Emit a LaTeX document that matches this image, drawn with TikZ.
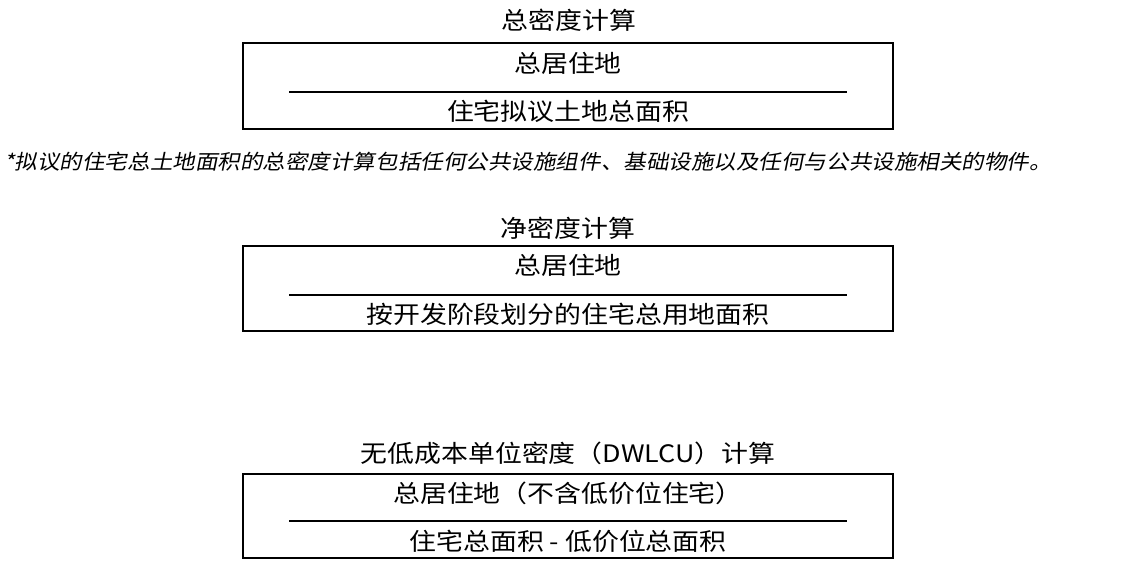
\documentclass[tikz,border=0pt]{standalone}
\usepackage{fontspec}
\setmainfont{Noto Sans CJK SC}
\newfontfamily\cjkwide[FakeStretch=1.12]{Noto Sans CJK SC}
\newfontfamily\cjkslant[FakeSlant=0.2,FakeStretch=1.1]{Noto Sans CJK SC}
\begin{document}
\begin{tikzpicture}[x=1pt,y=-1pt,
  frame/.style={draw=black,line width=2pt},
  rule/.style={draw=black,line width=1.6pt},
  txt/.style={inner sep=0pt,anchor=center,font=\cjkwide\fontsize{24}{26}\selectfont},
  note/.style={inner sep=0pt,anchor=west,font=\cjkslant\fontsize{20.5}{22}\selectfont}]
\useasboundingbox (0,0) rectangle (1127,581);
% box 1
\node[txt] (t1) at (569,20) {总密度计算};
\draw[frame] (243,43) rectangle (893,129);
\node[txt] (n1) at (568,63) {总居住地};
\coordinate (l1a) at (289,92);
\coordinate (l1b) at (847,92);
\draw[rule] (l1a) -- (l1b);
\node[txt] (d1) at (568,111) {住宅拟议土地总面积};
\node[note] (note) at (4,162) {*拟议的住宅总土地面积的总密度计算包括任何公共设施组件、基础设施以及任何与公共设施相关的物件。};
% box 2
\node[txt] (t2) at (568,228) {净密度计算};
\draw[frame] (243,246) rectangle (893,331);
\node[txt] (n2) at (568,265) {总居住地};
\coordinate (l2a) at (289,295);
\coordinate (l2b) at (847,295);
\draw[rule] (l2a) -- (l2b);
\node[txt] (d2) at (568,314) {按开发阶段划分的住宅总用地面积};
% box 3
\node[txt] (t3) at (568,453) {无低成本单位密度（DWLCU）计算};
\draw[frame] (243,474) rectangle (893,558);
\node[txt] (n3) at (568,493) {总居住地（不含低价位住宅）};
\coordinate (l3a) at (289,521);
\coordinate (l3b) at (847,521);
\draw[rule] (l3a) -- (l3b);
\node[txt] (d3) at (568,541) {住宅总面积 - 低价位总面积};
\end{tikzpicture}
\end{document}
